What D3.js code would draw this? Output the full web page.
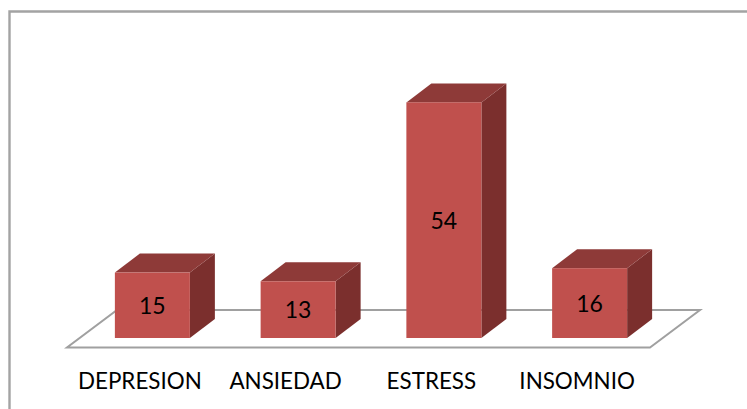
<!DOCTYPE html>
<html><head><meta charset="utf-8">
<script src="https://d3js.org/d3.v7.min.js"></script>
<style>html,body{margin:0;padding:0;background:#fff}svg{display:block}</style>
</head><body><svg id="c" width="747" height="409"></svg>
<script>
const categories = ["DEPRESION","ANSIEDAD","ESTRESS","INSOMNIO"];
const values = [15,13,54,16];
const colors = {front:"#C0504D",top:"#8E3A38",side:"#7B2F2D",line:"#A0A0A0",frame:"#A3A3A3",text:"#000"};
const font = "Lato, 'Open Sans', sans-serif";
const svg = d3.select("#c");
const W=747,H=409;
const floorLeft=67,floorRight=650,floorFront=347.5,depthX=50,depthY=37.5;
const x=d3.scaleBand().domain(categories).range([floorLeft,floorRight]);
const barW=75;
const base=338,barOffX=12.5;
const y=d3.scaleLinear().domain([0,60]).range([base,base-261.8]);
const dx=25,dy=19;
// frame
svg.append("path").attr("d",`M9.5,${H}V11.5H${W}`).attr("fill","none").attr("stroke",colors.frame).attr("stroke-width",2.4);
// floor
svg.append("path").attr("d",`M${floorLeft},${floorFront}H${floorRight}L${floorRight+depthX},${floorFront-depthY}H${floorLeft+depthX}Z`)
  .attr("fill","#fff").attr("stroke",colors.line).attr("stroke-width",2);
const g=svg.selectAll("g.bar").data(categories.map((c,i)=>({c,v:values[i]}))).join("g").attr("class","bar");
const fx=d=>x(d.c)+x.bandwidth()/2-barW/2+barOffX;
g.append("path").attr("fill",colors.side).attr("d",d=>{const l=fx(d)+barW,t=y(d.v);return `M${l},${t}L${l+dx},${t-dy}V${base-dy}L${l},${base}Z`;});
g.append("path").attr("fill",colors.top).attr("d",d=>{const l=fx(d),t=y(d.v);return `M${l},${t}L${l+dx},${t-dy}H${l+barW+dx}L${l+barW},${t}Z`;});
g.append("rect").attr("fill",colors.front).attr("x",fx).attr("y",d=>y(d.v)).attr("width",barW).attr("height",d=>base-y(d.v));
g.append("text").attr("x",d=>fx(d)+barW/2).attr("y",d=>(y(d.v)+base)/2+8.5)
  .attr("text-anchor","middle").attr("font-family",font).attr("font-size",23).attr("fill",colors.text).text(d=>d.v);
svg.selectAll("text.cat").data(categories).join("text").attr("class","cat")
  .attr("x",c=>x(c)+x.bandwidth()/2).attr("y",389).attr("text-anchor","middle")
  .attr("font-family",font).attr("font-size",22.4).attr("fill",colors.text).text(c=>c);
</script></body></html>
